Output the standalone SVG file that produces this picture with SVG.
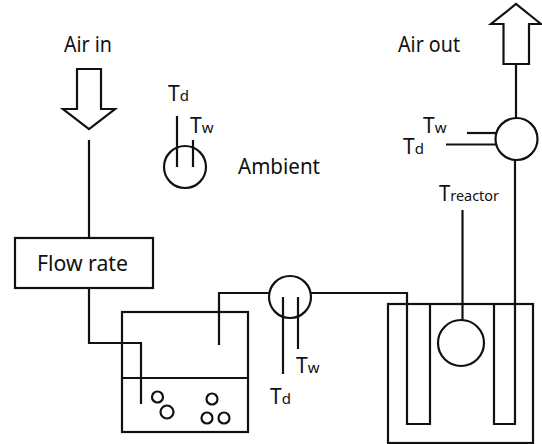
<svg xmlns="http://www.w3.org/2000/svg" width="542" height="444" viewBox="0 0 542 444">
<style>
.s{fill:none;stroke:#111;stroke-width:2.2}
.f{fill:#fff;stroke:#111;stroke-width:2.2}
text{font-family:"Noto Sans","Open Sans","Liberation Sans",sans-serif;fill:#111;font-size:22px}
.t{font-size:21px}
.sub{font-size:15px}
</style>
<rect width="542" height="444" fill="#fff"/>
<g id="connectors">
<path class="s" d="M89 140V238"/>
<path class="s" d="M89 288V343H141V404"/>
<path class="s" d="M219 345V293H270"/>
<path class="s" d="M311 293H407V424H430V304"/>
<path class="s" d="M494 304V424H515V160"/>
<path class="s" d="M516 118V65"/>
<path class="s" d="M462.500 210V320"/>
<path class="s" d="M467 133H496"/>
<path class="s" d="M446 144.500H496"/>
<path class="s" d="M283 297V374"/>
<path class="s" d="M298 297V349"/>
<path class="s" d="M177 116V167"/>
<path class="s" d="M193 140V167"/>
</g>
<g id="air-in"><path class="s" d="M77 69H101V109H115L89 129L63 109H77Z"/><text x="64" y="52" textLength="48" lengthAdjust="spacingAndGlyphs">Air in</text></g>
<g id="air-out"><path class="s" d="M503.500 64H529V24H541L516 4L491 24H503.500Z"/><text x="398" y="52" textLength="62" lengthAdjust="spacingAndGlyphs">Air out</text></g>
<g id="flow-rate"><rect class="s" x="15" y="238" width="138" height="50"/><text x="37" y="271" textLength="91" lengthAdjust="spacingAndGlyphs">Flow rate</text></g>
<g id="ambient-sensor"><circle class="s" cx="185" cy="167" r="21"/>
<text class="t" x="168" y="101">T<tspan class="sub">d</tspan></text>
<text class="t" x="190" y="133">T<tspan class="sub">w</tspan></text></g>
<g id="ambient-label"><text x="238" y="174" textLength="82" lengthAdjust="spacingAndGlyphs">Ambient</text></g>
<g id="outlet-sensor"><circle class="s" cx="516.500" cy="139" r="21"/>
<text class="t" x="423" y="133">T<tspan class="sub">w</tspan></text>
<text class="t" x="403" y="154">T<tspan class="sub">d</tspan></text></g>
<g id="mid-sensor"><circle class="s" cx="290" cy="297" r="21"/>
<text class="t" x="296" y="373">T<tspan class="sub">w</tspan></text>
<text class="t" x="270" y="404">T<tspan class="sub">d</tspan></text></g>
<g id="humidifier"><rect class="s" x="122" y="312" width="126" height="120"/><path class="s" d="M122 378H248"/>
<circle class="s" cx="157.500" cy="397" r="5.500"/><circle class="s" cx="167" cy="412" r="6.500"/><circle class="s" cx="212" cy="399" r="5.500"/><circle class="s" cx="207" cy="418" r="5.500"/><circle class="s" cx="224" cy="418" r="5.500"/></g>
<g id="reactor"><rect class="s" x="388" y="304" width="145" height="139"/><circle class="f" cx="461" cy="343" r="23"/>
<text class="t" x="439" y="201" textLength="60" lengthAdjust="spacingAndGlyphs">T<tspan class="sub">reactor</tspan></text></g>
</svg>
